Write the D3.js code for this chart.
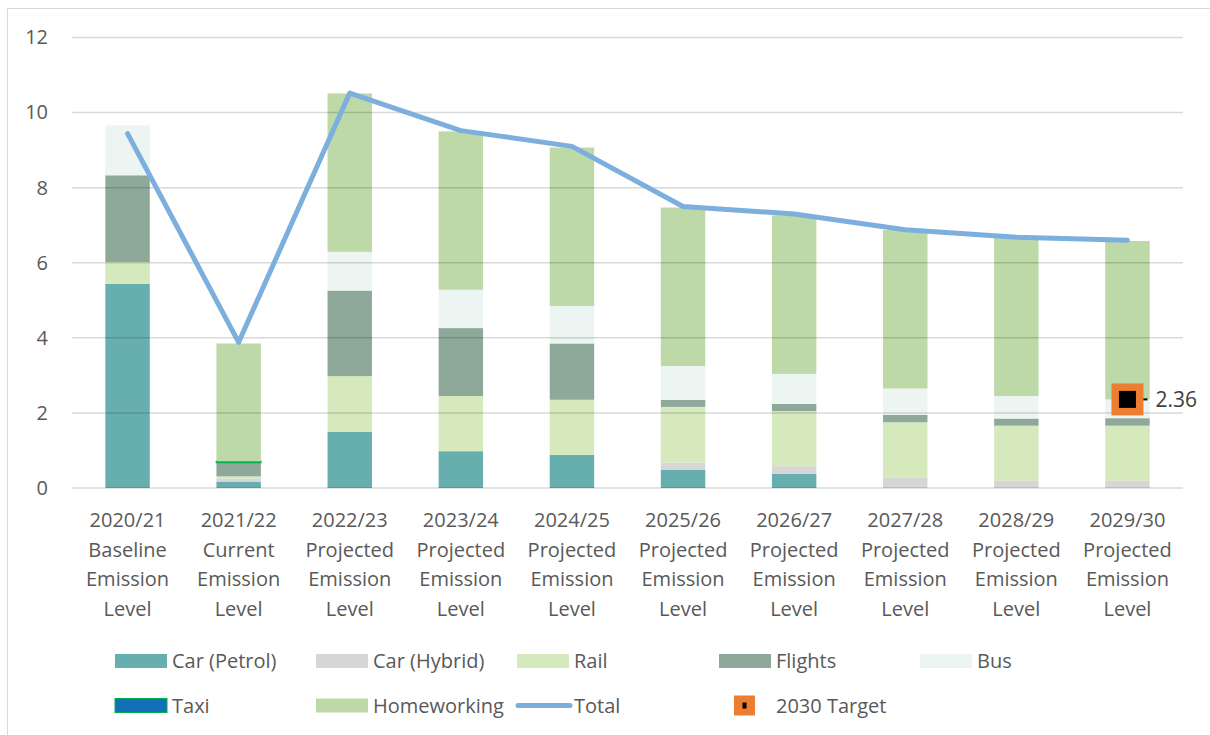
<!DOCTYPE html>
<html>
<head>
<meta charset="utf-8">
<script src="https://cdn.jsdelivr.net/npm/d3@7"></script>
<style>
  body { margin: 0; background: #fff; }
  svg { display: block; font-family: 'Open Sans', sans-serif; }
</style>
</head>
<body>
<svg id="chart"></svg>
<script>
const years = ['2020/21', '2021/22', '2022/23', '2023/24', '2024/25', '2025/26', '2026/27', '2027/28', '2028/29', '2029/30'];
const kinds = ['Baseline', 'Current', 'Projected', 'Projected', 'Projected', 'Projected', 'Projected', 'Projected', 'Projected', 'Projected'];

const carPetrol = [5.44, 0.16, 1.50, 0.98, 0.88, 0.48, 0.38, 0, 0, 0];
const carHybrid = [0, 0.09, 0, 0, 0, 0.20, 0.20, 0.28, 0.19, 0.19];
const rail = [0.58, 0.06, 1.48, 1.47, 1.47, 1.48, 1.47, 1.47, 1.47, 1.47];
const flights = [2.31, 0.37, 2.28, 1.81, 1.50, 0.19, 0.19, 0.20, 0.19, 0.20];
const bus = [1.33, 0, 1.03, 1.02, 1.00, 0.90, 0.80, 0.70, 0.60, 0.50];
const taxi = [0, 0.03, 0, 0, 0, 0, 0, 0, 0, 0];
const homeworking = [0, 3.14, 4.22, 4.22, 4.22, 4.22, 4.22, 4.22, 4.22, 4.22];
const total = [9.44, 3.88, 10.52, 9.52, 9.10, 7.50, 7.30, 6.88, 6.68, 6.60];
const target2030 = 2.36;
const yTicks = [0, 2, 4, 6, 8, 10, 12];

const series = [
  { name: 'Car (Petrol)', values: carPetrol, fill: '#67aeae' },
  { name: 'Car (Hybrid)', values: carHybrid, fill: '#d6d6d6' },
  { name: 'Rail', values: rail, fill: '#d5e9bd' },
  { name: 'Flights', values: flights, fill: '#8ea99a' },
  { name: 'Bus', values: bus, fill: '#ecf5f2' },
  { name: 'Taxi', values: taxi, fill: '#1170b8', stroke: '#00b050' },
  { name: 'Homeworking', values: homeworking, fill: '#bdd9a7' }
];

const width = 1210, height = 735;
const svg = d3.select('#chart').attr('width', width).attr('height', height);

// chart border
svg.append('rect')
  .attr('x', 7.5).attr('y', 8.5)
  .attr('width', 1220).attr('height', 740)
  .attr('fill', 'none')
  .attr('stroke', '#d9d9d9');

let x = d3.scaleBand()
  .domain(years)
  .range([72, 1183])
  .paddingInner(0.6)
  .paddingOuter(0.3);

let y = d3.scaleLinear()
  .domain([0, 12])
  .range([488, 37.5]);

// stacked bars
let rows = years.map((yr, i) => {
  let r = { year: yr };
  series.forEach(s => { r[s.name] = s.values[i]; });
  return r;
});
let stack = d3.stack().keys(series.map(s => s.name))(rows);

let bars = svg.append('g').attr('class', 'bars');
stack.forEach((layer, k) => {
  let s = series[k];
  bars.append('g')
    .selectAll('rect')
    .data(layer.filter(d => d[1] - d[0] > 0))
    .enter().append('rect')
      .attr('x', d => x(d.data.year))
      .attr('width', x.bandwidth())
      .attr('y', d => y(d[1]))
      .attr('height', d => Math.max(1, y(d[0]) - y(d[1])))
      .attr('fill', s.fill)
      .attr('stroke', s.stroke || 'none')
      .attr('stroke-width', s.stroke ? 1.5 : 0);
});

// gridlines drawn on top, semi transparent like the original
let grid = svg.append('g').attr('class', 'grid');
grid.selectAll('line')
  .data(yTicks)
  .enter().append('line')
    .attr('x1', 72).attr('x2', 1183)
    .attr('y1', d => y(d)).attr('y2', d => y(d))
    .attr('stroke', '#000')
    .attr('stroke-opacity', 0.15)
    .attr('stroke-width', 1.5);

// y axis labels
let yAxis = svg.append('g')
  .attr('transform', 'translate(48,0)')
  .call(d3.axisLeft(y).tickValues(yTicks).tickSize(0).tickPadding(0));
yAxis.select('.domain').remove();
yAxis.selectAll('text')
  .attr('font-size', 20)
  .attr('font-family', 'Open Sans')
  .attr('fill', '#595959');

// x axis labels (multi-line)
let xLabels = svg.append('g').attr('class', 'x-labels');
years.forEach((yr, i) => {
  let cx = x(yr) + x.bandwidth() / 2;
  let t = xLabels.append('text')
    .attr('text-anchor', 'middle')
    .attr('font-size', 20)
    .attr('fill', '#595959');
  [yr, kinds[i], 'Emission', 'Level'].forEach((line, j) => {
    t.append('tspan')
      .attr('x', cx)
      .attr('y', 527 + j * 29.5)
      .text(line);
  });
});

// total line
let line = d3.line()
  .x((d, i) => x(years[i]) + x.bandwidth() / 2)
  .y(d => y(d));

svg.append('path')
  .datum(total)
  .attr('fill', 'none')
  .attr('stroke', '#7cafdd')
  .attr('stroke-width', 5)
  .attr('stroke-linejoin', 'round')
  .attr('stroke-linecap', 'round')
  .attr('d', line);

// 2030 target marker
let tx = x(years[years.length - 1]) + x.bandwidth() / 2;
let ty = y(target2030);
svg.append('line')
  .attr('x1', tx).attr('x2', tx + 20)
  .attr('y1', ty).attr('y2', ty)
  .attr('stroke', '#000').attr('stroke-width', 2);
svg.append('rect')
  .attr('x', tx - 16).attr('y', ty - 16)
  .attr('width', 32).attr('height', 32)
  .attr('fill', '#ed7d31');
svg.append('rect')
  .attr('x', tx - 8.5).attr('y', ty - 8.5)
  .attr('width', 17).attr('height', 17)
  .attr('fill', '#000');
svg.append('text')
  .attr('x', tx + 28).attr('y', ty)
  .attr('dy', '0.35em')
  .attr('font-size', 21)
  .attr('fill', '#404040')
  .text(target2030.toFixed(2));

// legend
const legendCols = [115, 316, 517, 719, 920];
const legendRows = [661, 705.5];
let legendItems = series.map(s => ({ name: s.name, type: 'bar', fill: s.fill, stroke: s.stroke }));
legendItems.push({ name: 'Total', type: 'line' });
legendItems.push({ name: '2030 Target', type: 'marker' });

let legend = svg.append('g').attr('class', 'legend');
legendItems.forEach((item, i) => {
  let lx = legendCols[i % 5];
  let ly = legendRows[Math.floor(i / 5)];
  let g = legend.append('g');
  if (item.type === 'bar') {
    g.append('rect')
      .attr('x', lx).attr('y', ly - 7)
      .attr('width', 52).attr('height', 14)
      .attr('fill', item.fill)
      .attr('stroke', item.stroke || 'none')
      .attr('stroke-width', item.stroke ? 1 : 0);
  } else if (item.type === 'line') {
    g.append('line')
      .attr('x1', lx + 1).attr('x2', lx + 53)
      .attr('y1', ly).attr('y2', ly)
      .attr('stroke', '#7cafdd')
      .attr('stroke-width', 5)
      .attr('stroke-linecap', 'round');
  } else {
    g.append('rect')
      .attr('x', lx + 15).attr('y', ly - 10)
      .attr('width', 21).attr('height', 20)
      .attr('fill', '#ed7d31');
    g.append('rect')
      .attr('x', lx + 23.5).attr('y', ly - 3)
      .attr('width', 4).attr('height', 6)
      .attr('fill', '#000');
  }
  g.append('text')
    .attr('x', lx + 57).attr('y', ly)
    .attr('dy', '0.35em')
    .attr('font-size', 20)
    .attr('fill', '#595959')
    .text(item.name);
});
</script>
</body>
</html>
